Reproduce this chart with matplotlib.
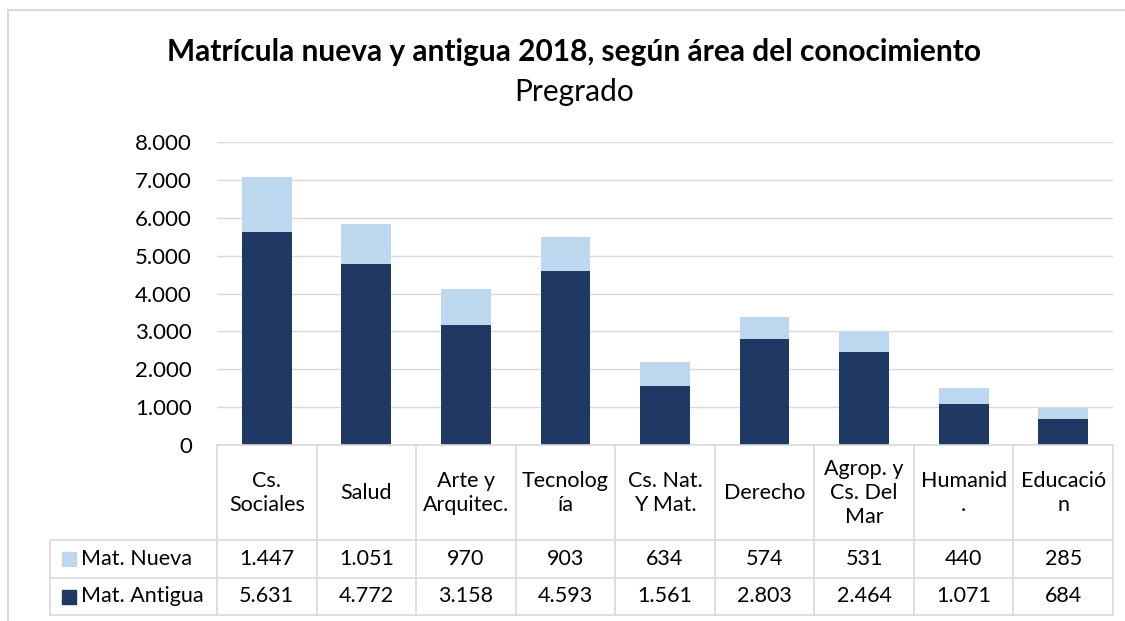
import matplotlib.pyplot as plt
from matplotlib.patches import Rectangle

plt.rcParams['font.family'] = ['Lato', 'DejaVu Sans']

categorias = ["Cs.\nSociales", "Salud", "Arte y\nArquitec.", "Tecnolog\nía", "Cs. Nat.\nY Mat.",
              "Derecho", "Agrop. y\nCs. Del\nMar", "Humanid\n.", "Educació\nn"]
mat_nueva = [1447, 1051, 970, 903, 634, 574, 531, 440, 285]
mat_antigua = [5631, 4772, 3158, 4593, 1561, 2803, 2464, 1071, 684]
yticks = [0, 1000, 2000, 3000, 4000, 5000, 6000, 7000, 8000]

c_antigua = "#203864"
c_nueva = "#bdd7ee"
c_grid = "#d9d9d9"
fs = 15.5


def fmt(v):
    return f"{v:,}".replace(",", ".")


W, H = 1125, 621
fig = plt.figure(figsize=(W / 100, H / 100), dpi=100)

# chart border (only left and top edges are visible in the crop)
fig.patches.append(Rectangle((8 / W, -0.1), 1.2, 1.1 - 10 / H, transform=fig.transFigure,
                             fill=False, edgecolor=c_grid, lw=1.5))

fig.text(0.51, 1 - 52 / H, "Matrícula nueva y antigua 2018, según área del conocimiento",
         ha="center", va="center", fontsize=21.5, fontweight="bold")
fig.text(0.51, 1 - 92 / H, "Pregrado", ha="center", va="center", fontsize=21.5)

ax = fig.add_axes([217 / W, (621 - 445) / H, 896 / W, (445 - 142) / H])
x = list(range(len(categorias)))
ax.bar(x, mat_antigua, width=0.5, color=c_antigua, zorder=3)
ax.bar(x, mat_nueva, width=0.5, bottom=mat_antigua, color=c_nueva, zorder=3)
ax.set_xlim(-0.5, len(categorias) - 0.5)
ax.set_ylim(0, 8000)
ax.set_yticks(yticks)
ax.set_yticklabels([fmt(v) for v in yticks], fontsize=fs + 0.5)
ax.tick_params(axis="y", length=0, pad=18)
ax.set_xticks([])
ax.grid(axis="y", color=c_grid, lw=1, zorder=0)
for s in ax.spines.values():
    s.set_visible(False)

# data table
tax = fig.add_axes([50 / W, 6 / H, (1113 - 50) / W, (615 - 445) / H])
xmin = -0.5 - 167 / 99.56
tax.set_xlim(xmin, len(categorias) - 0.5)
tax.set_ylim(0, 170)
tax.axis("off")
lk = dict(color=c_grid, lw=1.2, clip_on=False)
for yy in (0, 37, 75):
    tax.plot([xmin, len(categorias) - 0.5], [yy, yy], **lk)
tax.plot([-0.5, len(categorias) - 0.5], [170, 170], **lk)
for i in range(len(categorias) + 1):
    tax.plot([i - 0.5, i - 0.5], [0, 170], **lk)
tax.plot([xmin, xmin], [0, 75], **lk)

for i, lab in enumerate(categorias):
    tax.text(i, 122, lab, ha="center", va="center", fontsize=fs, linespacing=1.25)
    tax.text(i, 56, fmt(mat_nueva[i]), ha="center", va="center", fontsize=fs)
    tax.text(i, 18.5, fmt(mat_antigua[i]), ha="center", va="center", fontsize=fs)

for yy, name, col in ((56, "Mat. Nueva", c_nueva), (18.5, "Mat. Antigua", c_antigua)):
    tax.add_patch(Rectangle((xmin + 0.12, yy - 7), 0.14, 14, color=col, clip_on=False))
    tax.text(xmin + 0.31, yy, name, ha="left", va="center", fontsize=fs)

fig.savefig("out.png", dpi=100)
